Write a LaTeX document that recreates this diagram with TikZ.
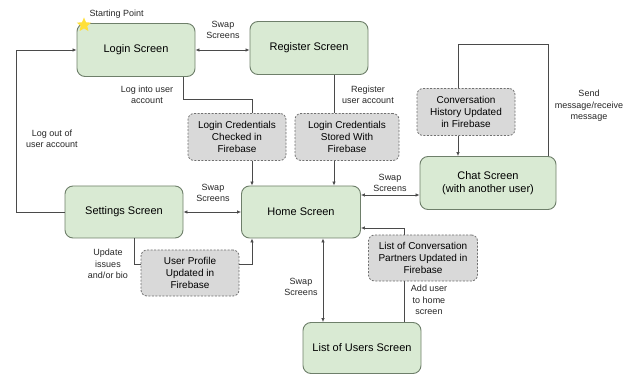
\documentclass[tikz,border=0pt]{standalone}
\usepackage{fontspec}
\setmainfont{Liberation Sans}
\usetikzlibrary{arrows.meta, shapes.geometric}

\definecolor{screenfill}{HTML}{D9EAD3}
\definecolor{screenline}{HTML}{6E7F6A}
\definecolor{storefill}{HTML}{D9D9D9}
\definecolor{storeline}{HTML}{707070}
\definecolor{wirecol}{HTML}{4A4A4A}
\definecolor{starfill}{HTML}{FFE03A}

\tikzset{
  screen/.style={draw=screenline, fill=screenfill, rounded corners=8pt,
    line width=0.9pt, minimum width=118pt, minimum height=53pt,
    font=\fontsize{11}{13}\selectfont, align=center, inner sep=0pt},
  store/.style={draw=storeline, fill=storefill, rounded corners=6pt,
    dash pattern=on 2pt off 1.5pt, line width=0.8pt, minimum width=98pt,
    minimum height=47pt, font=\fontsize{10}{12.2}\selectfont, align=center,
    inner sep=0pt},
  note/.style={font=\fontsize{9}{11.5}\selectfont, align=center, text=black!85},
  wire/.style={draw=wirecol, line width=0.7pt},
  oneway/.style={wire, -{Latex[length=4pt,width=3.5pt]}},
  twoway/.style={wire, {Latex[length=4pt,width=3.5pt]}-{Latex[length=4pt,width=3.5pt]}},
}

\begin{document}
\begin{tikzpicture}[x=1pt, y=-1pt]
  \useasboundingbox (0,0) rectangle (624,374);

  % screens
  \node[screen] (login) at (136,50) {Login Screen};
  \node[screen] (register) at (309,48) {Register Screen};
  \node[screen, minimum width=136pt] (chat) at (488,183) {Chat Screen\\(with another user)};
  \node[screen, minimum height=52pt] (settings) at (124,212) {Settings Screen};
  \node[screen, minimum width=119pt, minimum height=52pt] (home) at (301,212) {Home Screen};
  \node[screen, minimum height=51pt] (users) at (362,348) {List of Users Screen};

  % firebase steps
  \node[store] (checked) at (237,137) {Login Credentials\\Checked in\\Firebase};
  \node[store, minimum width=104pt] (stored) at (347,137) {Login Credentials\\Stored With\\Firebase};
  \node[store] (history) at (466,112) {Conversation\\History Updated\\in Firebase};
  \node[store, minimum height=46pt] (profile) at (190,273) {User Profile\\Updated in\\Firebase};
  \node[store, minimum width=109pt, minimum height=46pt] (partners) at (423,258) {List of Conversation\\Partners Updated in\\Firebase};

  % start marker
  \node[star, star points=5, star point ratio=2.2, fill=starfill, minimum size=15pt,
    inner sep=0pt] (start) at (84,25) {};
  \node[note, anchor=west] (startlbl) at (86,14) {Starting Point};

  % connectors
  \draw[twoway] (login.east) -- (login.east -| register.west);
  \draw[wire] ([xshift=47pt]login.south) -- ++(0,22) -| ([xshift=15pt]checked.north);
  \draw[oneway] ([xshift=15pt]checked.south) -- ([xshift=15pt]checked.south |- home.north);
  \draw[wire] ([xshift=25pt]register.south) -- ([xshift=25pt]register.south |- stored.north);
  \draw[oneway] ([xshift=-13pt]stored.south) -- ([xshift=-13pt]stored.south |- home.north);
  \draw[oneway] (settings.west) -- ++(-48,0) |- (login.west);
  \draw[twoway] (settings.east) -- (home.west);
  \coordinate (homechat) at ([yshift=17pt]home.east);
  \draw[twoway] (homechat) -- (homechat -| chat.west);
  \draw[wire] ([xshift=10pt]settings.south) |- ([yshift=9pt]profile.west);
  \draw[oneway] ([yshift=9pt]profile.east) -| ([xshift=-49pt]home.south);
  \draw[twoway] ([xshift=22pt]home.south) -- ([xshift=22pt]home.south |- users.north);
  \draw[wire] ([xshift=42pt]users.north) -- ([xshift=42pt]users.north |- partners.south);
  \draw[oneway] ([xshift=-19pt]partners.north) |- ([yshift=-16pt]home.east);
  \draw[wire] ([xshift=60pt]chat.north) -- ++(0,-112) -| ([xshift=-8pt]history.north);
  \draw[oneway] ([xshift=-8pt]history.south) -- ([xshift=-8pt]history.south |- chat.north);

  % labels
  \node[note] (swap1) at (223,30) {Swap\\Screens};
  \node[note] (loginlbl) at (147,95) {Log into user\\account};
  \node[note] (reglbl) at (368,95) {Register\\user account};
  \node[note] (logoutlbl) at (52,139) {Log out of\\user account};
  \node[note] (swap2) at (213,193) {Swap\\Screens};
  \node[note] (swap3) at (390,183) {Swap\\Screens};
  \node[note] (updlbl) at (108,264) {Update\\issues\\and/or bio};
  \node[note] (swap4) at (301,287) {Swap\\Screens};
  \node[note] (addlbl) at (429,300) {Add user\\to home\\screen};
  \node[note] (sendlbl) at (589,106) {Send\\message/receive\\message};
\end{tikzpicture}
\end{document}
